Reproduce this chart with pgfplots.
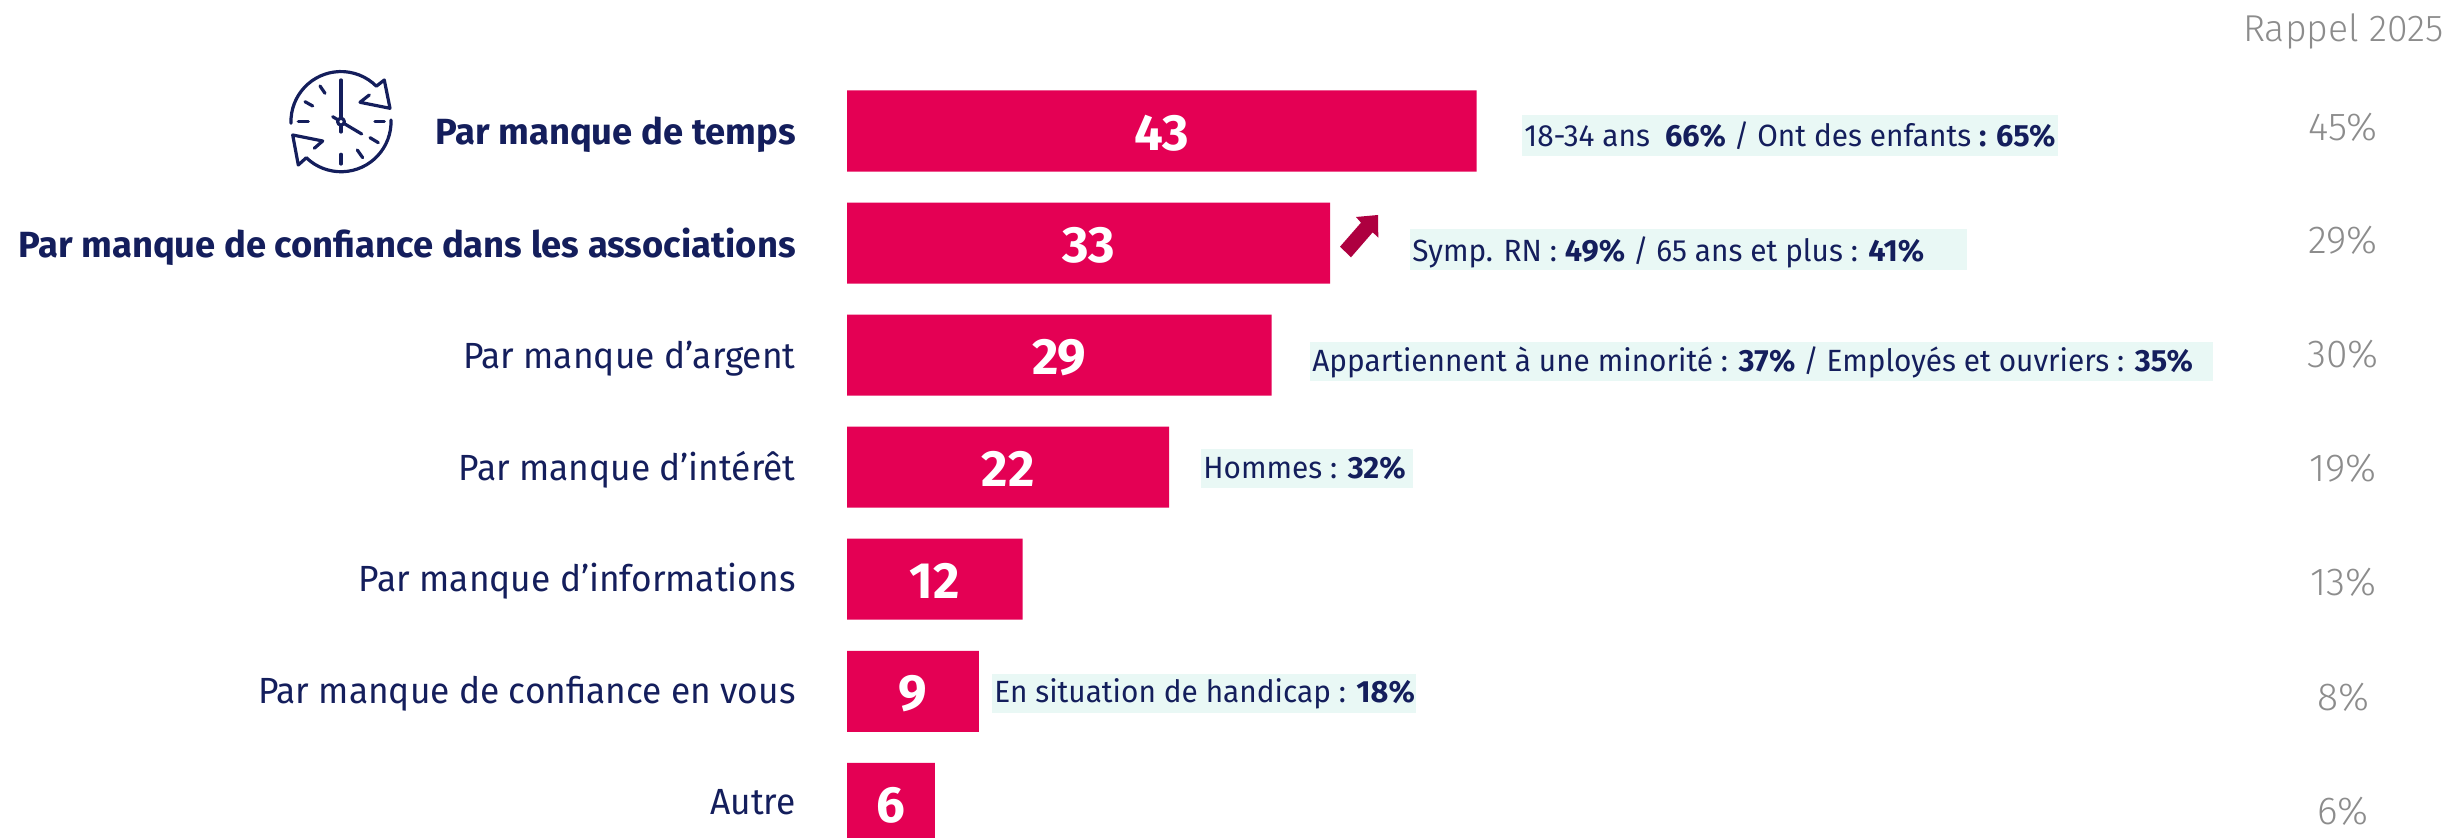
\documentclass[border=0pt]{standalone}
\usepackage{pgfplots}
\pgfplotsset{compat=1.18}
\usepackage{pgfplotstable}
\usepackage{fontspec}
\setmainfont{Fira Sans}[FakeStretch=0.97,BoldFeatures={FakeStretch=1.0}]
\newfontfamily\recallfont{Fira Sans Light}
\definecolor{navy}{HTML}{141E5C}
\definecolor{bar}{HTML}{E40054}
\definecolor{mint}{HTML}{E9F8F5}
\definecolor{grayrecall}{HTML}{8C8C8C}
\definecolor{arrowred}{HTML}{AE0040}

\pgfplotstableread{
row value mid
0 43 21.5
1 33 16.5
2 29 14.5
3 22 11
4 12 6
5 9 4.5
6 6 3
}\scores

\begin{document}
\begin{tikzpicture}[x=0.5pt,y=-0.5pt]
\path[use as bounding box] (0,0) rectangle (2446,838);
% callout backgrounds behind the subgroup figures
\fill[mint] (1522,115) rectangle (2058,156);
\fill[mint] (1410,229) rectangle (1967,270);
\fill[mint] (1310,342) rectangle (2213,381);
\fill[mint] (1201,449) rectangle (1413,488);
\fill[mint] (992,674) rectangle (1416,713);
\begin{axis}[
  at={(0,0)},anchor=north west,
  scale only axis,width=1223pt,height=419pt,
  hide axis,
  xmin=-57.86,xmax=109.22,
  y dir=reverse,ymin=-1.169,ymax=6.309,
  clip=true,
]
\addplot[xbar,bar width=40.5pt,bar shift=0pt,fill=bar,draw=none] table[x=value,y=row] {\scores};
\addplot[only marks,mark=none,point meta=explicit,
  nodes near coords,
  nodes near coords align=center,
  every node near coord/.append style={text=white,font=\fontsize{25.5}{26}\selectfont\bfseries,yshift=-1pt,
    /pgf/number format/assume math mode=true}]
  table[x=mid,y=row,meta=value] {\scores};
\end{axis}
\tikzset{
  cat/.style={anchor=east,text=navy,inner sep=0pt,font=\fontsize{18.2}{20}\selectfont},
  catb/.style={cat,font=\fontsize{18.2}{20}\selectfont\bfseries},
  note/.style={anchor=west,text=navy,inner sep=0pt,font=\fontsize{15.35}{18}\selectfont},
  rap/.style={text=grayrecall,inner sep=0pt,font=\fontsize{19.5}{22}\recallfont},
}
% category names
\node[catb] at (796,135) {Par manque de temps};
\node[catb] at (796,247) {Par manque de confiance dans les associations};
\node[cat] at (796,359) {Par manque d’argent};
\node[cat] at (796,470) {Par manque d’intérêt};
\node[cat] at (796,581) {Par manque d’informations};
\node[cat] at (796,694) {Par manque de confiance en vous};
\node[cat] at (796,802) {Autre};
% subgroup figures
\node[note] at (1524,136) {18-34 ans \textbf{ 66\%} / Ont des enfants \textbf{: 65\%}};
\node[note] at (1412,252) {Symp. RN : \textbf{49\%} / 65 ans et plus : \textbf{41\%}};
\node[note] at (1312,362) {Appartiennent à une minorité : \textbf{37\%} / Employés et ouvriers : \textbf{35\%}};
\node[note] at (1203,468) {Hommes : \textbf{32\%}};
\node[note] at (994,694) {En situation de handicap : \textbf{18\%}};
% previous wave
\node[rap,anchor=east,font=\fontsize{18.7}{22}\recallfont] at (2444,31) {Rappel 2025};
\node[rap] at (2343,127) {45\%};
\node[rap] at (2343,240) {29\%};
\node[rap] at (2343,354) {30\%};
\node[rap] at (2343,468) {19\%};
\node[rap] at (2343,582) {13\%};
\node[rap] at (2343,697) {8\%};
\node[rap] at (2343,811) {6\%};
% trend arrow
\fill[arrowred] (1378,215) -- (1378.3,237.7) -- (1372.7,232.3) -- (1351,257.3) -- (1340,246.7) -- (1361,222.7) -- (1356,217) -- cycle;
% clock with circular arrows
\begin{scope}[draw=navy,line width=1.6pt,line cap=round,line join=round]
\draw (291,123.3) arc (178:315:50) -- (384.3,80) -- (390,108.3) -- (360,102.3) -- (369.3,95);
\draw (391,120) arc (-2:134:50) -- (298.3,165) -- (292.7,135) -- (322.7,141) -- (314.3,148.3);
\draw (341,80) -- (341,132);
\draw (332.7,116.7) -- (341,121.7) -- (361.7,134);
\draw (320,86) -- (325,93.3);
\draw (305,101.7) -- (312.7,106);
\draw (298.3,121.7) -- (308.3,121.7);
\draw (375,121.7) -- (384.3,121.7);
\draw (370,137.7) -- (378.3,142.7);
\draw (357.3,150) -- (362.7,157.7);
\draw (341,154.3) -- (341,164);
\filldraw[fill=white] (341,121.7) circle (3.4);
\end{scope}
\end{tikzpicture}
\end{document}
